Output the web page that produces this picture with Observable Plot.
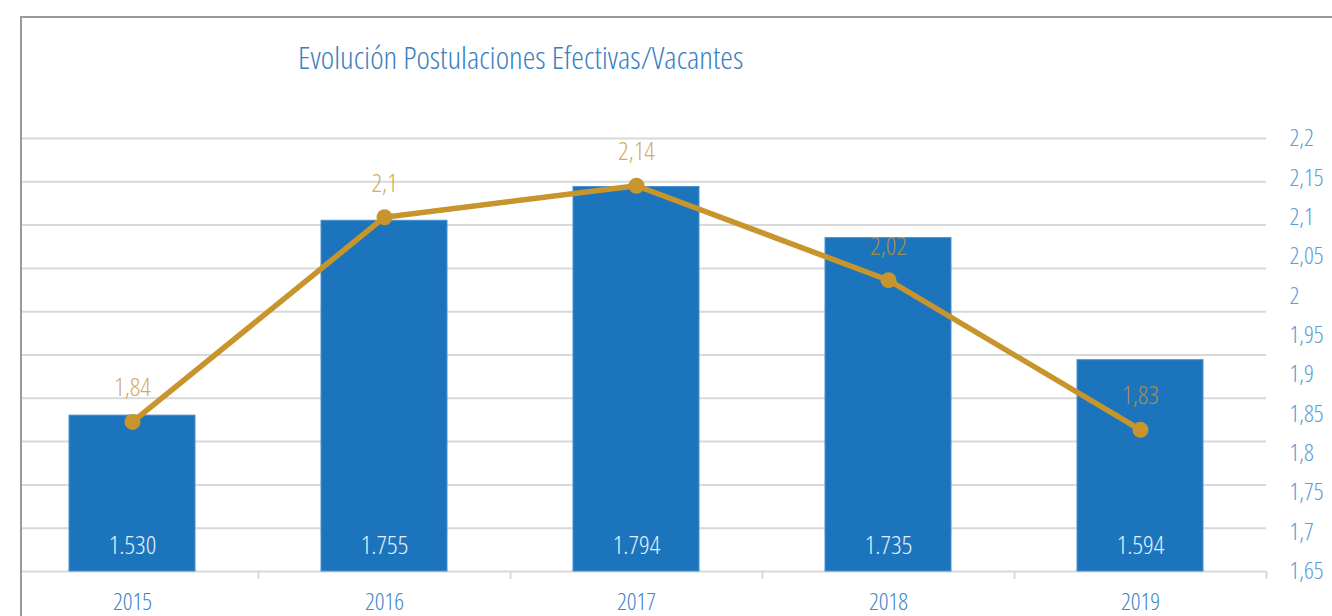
<!DOCTYPE html>
<html>
<head>
<meta charset="utf-8">
<script src="https://cdn.jsdelivr.net/npm/d3@7"></script>
<script src="https://cdn.jsdelivr.net/npm/@observablehq/plot@0.6"></script>
<style>
  html, body { margin: 0; padding: 0; background: #fff; }
  #wrap { position: relative; width: 1332px; height: 616px; overflow: hidden; font-family: "Open Sans", sans-serif; font-stretch: 75%; font-weight: 300; }
  #wrap svg { position: absolute; left: 0; top: 0; }
  #wrap svg text { font-stretch: 75%; font-weight: 300; }
  #mask { position: absolute; left: 0; top: 0; width: 21px; height: 616px; background: #fff; }
  #frame { position: absolute; left: 20px; top: 16px; width: 1400px; height: 700px; border-left: 2px solid #9a9a9a; border-top: 2px solid #9a9a9a; }
  #title { position: absolute; left: 298px; top: 35px; font-size: 32px; line-height: 44px; color: #3b7fc1; white-space: nowrap; }
</style>
</head>
<body>
<div id="wrap"></div>
<script>
const years = ["2015", "2016", "2017", "2018", "2019"];
const postulaciones = [1530, 1755, 1794, 1735, 1594];
const ratio = [1.84, 2.10, 2.14, 2.02, 1.83];
const ratioLabels = ["1,84", "2,1", "2,14", "2,02", "1,83"];
const leftTicks = [1350, 1400, 1450, 1500, 1550, 1600, 1650, 1700, 1750, 1800, 1850];
const rightTicks = [1.65, 1.7, 1.75, 1.8, 1.85, 1.9, 1.95, 2, 2.05, 2.1, 2.15, 2.2];

const rows = years.map((y, i) => ({year: y, v: postulaciones[i], r: ratio[i], rl: ratioLabels[i]}));
const fmtBar = d => d3.format(",")(d).replace(/,/g, ".");
const fmtComma = d => String(+d.toFixed(2)).replace(".", ",");

const W = 1332, H = 616;
const common = {
  width: W, height: H,
  marginLeft: 6, marginRight: 66, marginTop: 138, marginBottom: 45,
  style: {background: "transparent", fontFamily: "'Open Sans', sans-serif"},
};
const xOpts = {type: "band", domain: years, paddingOuter: 0.25, paddingInner: 0.5};

const bars = Plot.plot({
  ...common,
  x: {...xOpts, axis: null},
  y: {domain: [1350, 1850], axis: null},
  marks: [
    Plot.ruleY(leftTicks, {stroke: "#d9d9d9", strokeWidth: 2}),
    Plot.barY(rows, {x: "year", y1: 1350, y2: "v", fill: "#1c75bc", stroke: "#4a90d0", strokeWidth: 1}),
    Plot.ruleX(years, {x: d => d, dx: 126, y1: 1350, y2: 1350, insetBottom: -8, stroke: "#d9d9d9", strokeWidth: 2}),
    Plot.text(rows, {x: "year", y: 1350, text: d => fmtBar(d.v), dy: -26, fill: "#e3eef8", fontSize: 26}),
    Plot.axisX({domain: years, label: null, tickSize: 0, tickPadding: 21, fontSize: 24, color: "#3f86c8"})
  ]
});

const line = Plot.plot({
  ...common,
  x: {...xOpts, axis: null},
  y: {domain: [1.65, 2.2], axis: null},
  marks: [
    Plot.line(rows, {x: "year", y: "r", stroke: "#c8952c", strokeWidth: 5.5}),
    Plot.dot(rows, {x: "year", y: "r", r: 8, fill: "#c8952c"}),
    Plot.text(rows, {x: "year", y: "r", text: "rl", dy: -34, fill: "#c8952c", fillOpacity: 0.8, fontSize: 26}),
    Plot.axisY(rightTicks, {anchor: "right", label: null, tickSize: 0, tickPadding: 23, tickFormat: fmtComma, fontSize: 24, color: "#5b9bd5"})
  ]
});

const wrap = document.getElementById("wrap");
wrap.appendChild(bars);
wrap.appendChild(line);
const mask = document.createElement("div"); mask.id = "mask"; wrap.appendChild(mask);
const frame = document.createElement("div"); frame.id = "frame"; wrap.appendChild(frame);
const title = document.createElement("div"); title.id = "title";
title.textContent = "Evolución Postulaciones Efectivas/Vacantes";
wrap.appendChild(title);
</script>
</body>
</html>
